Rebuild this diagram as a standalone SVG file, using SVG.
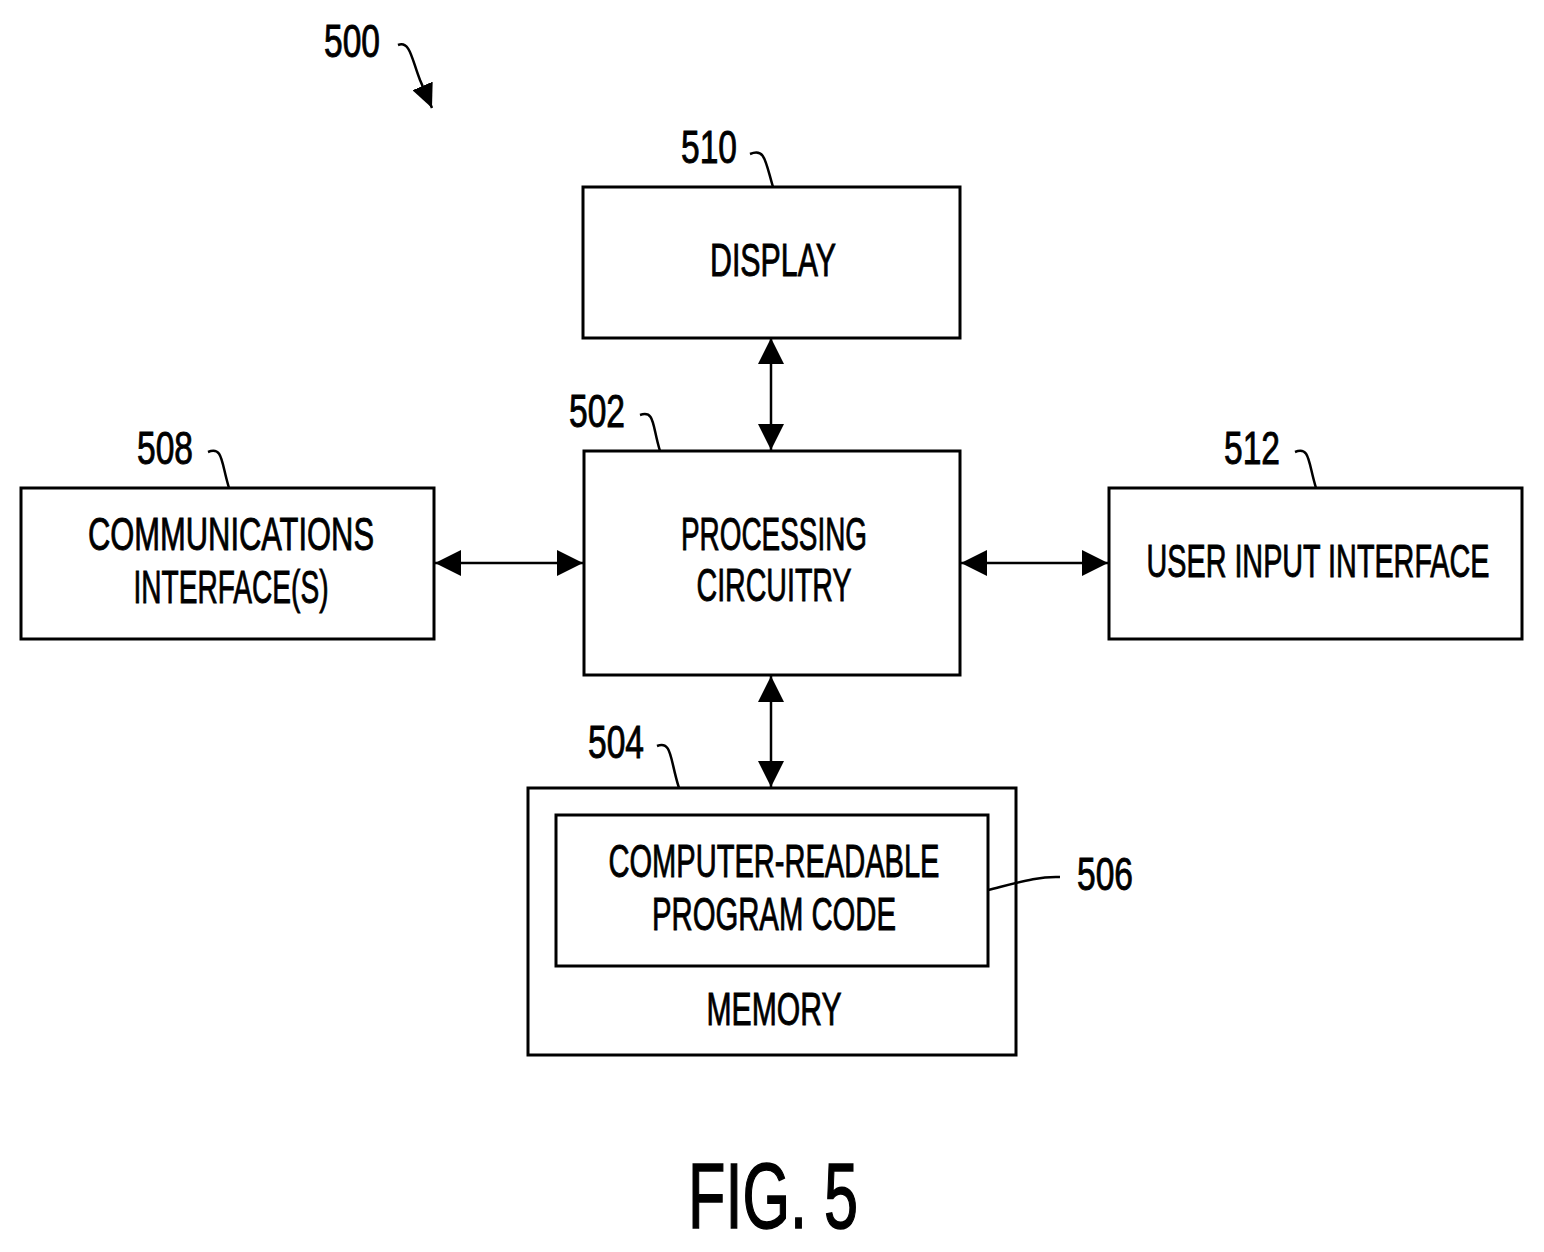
<svg xmlns="http://www.w3.org/2000/svg" width="1544" height="1252" viewBox="0 0 1544 1252">
<style>
.b{fill:none;stroke:#000;stroke-width:3}
.t{font-family:"Liberation Sans",Arial,sans-serif;font-size:46px;fill:#000;stroke:#000;stroke-width:0.9;text-anchor:middle}
.c{fill:none;stroke:#000;stroke-width:2.5;marker-start:url(#a);marker-end:url(#a)}
.l{fill:none;stroke:#000;stroke-width:2.5}
</style>
<defs>
<marker id="a" markerUnits="userSpaceOnUse" markerWidth="28" markerHeight="26" refX="26" refY="13" orient="auto-start-reverse"><path d="M0,0 L26,13 L0,26 Z" fill="#000"/></marker>
<marker id="h" markerUnits="userSpaceOnUse" markerWidth="26" markerHeight="22" refX="24" refY="11" orient="auto"><path d="M0,0 L24,11 L0,22 Z" fill="#000"/></marker>
</defs>
<g id="fig500">
<text class="t" x="352" y="57" textLength="56" lengthAdjust="spacingAndGlyphs">500</text>
<path class="l" d="M398,45 C410,40 412,60 420,80 L432,108" marker-end="url(#h)"/>
</g>
<g id="display">
<rect class="b" x="583" y="187" width="377" height="151"/>
<text class="t" x="773" y="276" textLength="126" lengthAdjust="spacingAndGlyphs">DISPLAY</text>
<text class="t" x="709" y="163" textLength="56" lengthAdjust="spacingAndGlyphs">510</text>
<path class="l" d="M750,154 C765,148 765,160 773,187"/>
</g>
<g id="processing">
<rect class="b" x="584" y="451" width="376" height="224"/>
<text class="t" x="774" y="550" textLength="186" lengthAdjust="spacingAndGlyphs">PROCESSING</text>
<text class="t" x="774" y="601" textLength="155" lengthAdjust="spacingAndGlyphs">CIRCUITRY</text>
<text class="t" x="597" y="427" textLength="56" lengthAdjust="spacingAndGlyphs">502</text>
<path class="l" d="M640,415 C655,410 652,425 660,451"/>
</g>
<g id="comms">
<rect class="b" x="21" y="488" width="413" height="151"/>
<text class="t" x="231" y="550" textLength="286" lengthAdjust="spacingAndGlyphs">COMMUNICATIONS</text>
<text class="t" x="231" y="603" textLength="195" lengthAdjust="spacingAndGlyphs">INTERFACE(S)</text>
<text class="t" x="165" y="464" textLength="56" lengthAdjust="spacingAndGlyphs">508</text>
<path class="l" d="M208,452 C223,446 221,462 229,488"/>
</g>
<g id="userinput">
<rect class="b" x="1109" y="488" width="413" height="151"/>
<text class="t" x="1318" y="577" textLength="343" lengthAdjust="spacingAndGlyphs">USER INPUT INTERFACE</text>
<text class="t" x="1252" y="464" textLength="56" lengthAdjust="spacingAndGlyphs">512</text>
<path class="l" d="M1295,452 C1310,446 1308,462 1316,488"/>
</g>
<g id="memory">
<rect class="b" x="528" y="788" width="488" height="267"/>
<text class="t" x="774" y="1025" textLength="135" lengthAdjust="spacingAndGlyphs">MEMORY</text>
<text class="t" x="616" y="758" textLength="56" lengthAdjust="spacingAndGlyphs">504</text>
<path class="l" d="M657,746 C672,740 670,760 679,788"/>
</g>
<g id="code">
<rect class="b" x="556" y="815" width="432" height="151"/>
<text class="t" x="774" y="877" textLength="331" lengthAdjust="spacingAndGlyphs">COMPUTER-READABLE</text>
<text class="t" x="774" y="930" textLength="244" lengthAdjust="spacingAndGlyphs">PROGRAM CODE</text>
<text class="t" x="1105" y="890" textLength="56" lengthAdjust="spacingAndGlyphs">506</text>
<path class="l" d="M988,890 C1020,882 1040,876 1060,877"/>
</g>
<g id="connectors">
<line class="c" x1="771" y1="338" x2="771" y2="450"/>
<line class="c" x1="771" y1="676" x2="771" y2="787"/>
<line class="c" x1="435" y1="563" x2="583" y2="563"/>
<line class="c" x1="961" y1="563" x2="1108" y2="563"/>
</g>
<text class="t" x="773" y="1228" style="font-size:92px;stroke-width:1.5" textLength="170" lengthAdjust="spacingAndGlyphs">FIG. 5</text>
</svg>
